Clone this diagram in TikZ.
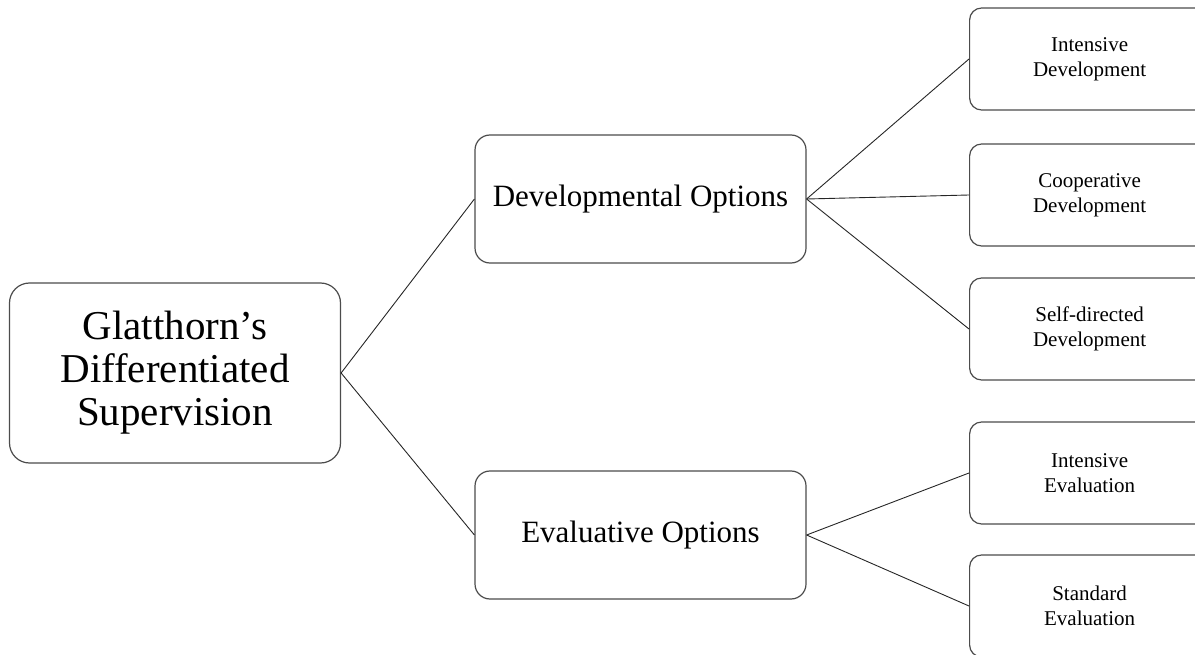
\documentclass[tikz,border=0pt]{standalone}
\usepackage{fontspec}
\setmainfont{Liberation Serif}
\begin{document}
\begin{tikzpicture}[x=1pt,y=-1pt,
  box/.style={draw=black!70,line width=1.2pt,rounded corners=#1,fill=white,inner sep=0pt,align=center},
  box/.default=12pt,
  link/.style={draw=black!85,line width=0.9pt}]
\useasboundingbox (0,0) rectangle (1195,655);
\clip (0,0) rectangle (1195,655);
% root
\node[box=20pt,minimum width=331pt,minimum height=180pt,font=\fontsize{41}{43}\selectfont] (root) at (175,373) {Glatthorn’s\\Differentiated\\Supervision};
% level 2
\node[box=15pt,minimum width=331pt,minimum height=128pt,font=\fontsize{31}{36}\selectfont] (dev) at (640.5,199) {Developmental Options};
\node[box=15pt,minimum width=331pt,minimum height=128pt,font=\fontsize{31}{36}\selectfont] (eval) at (640.5,535) {Evaluative Options};
% level 3
\tikzset{leaf/.style={box=12pt,minimum width=240pt,minimum height=102pt,anchor=west,font=\fontsize{21}{25}\selectfont,text width=226pt}}
\node[leaf] (id) at (969,59) {Intensive\\Development};
\node[leaf] (cd) at (969,195) {Cooperative\\Development};
\node[leaf] (sd) at (969,329) {Self-directed\\Development};
\node[leaf] (ie) at (969,473) {Intensive\\Evaluation};
\node[leaf] (se) at (969,606) {Standard\\Evaluation};
% connectors
\draw[link] (root.east) -- (dev.west);
\draw[link] (root.east) -- (eval.west);
\draw[link] (dev.east) -- (id.west);
\draw[link] (dev.east) -- (cd.west);
\draw[link] (dev.east) -- (sd.west);
\draw[link] (eval.east) -- (ie.west);
\draw[link] (eval.east) -- (se.west);
\end{tikzpicture}
\end{document}
